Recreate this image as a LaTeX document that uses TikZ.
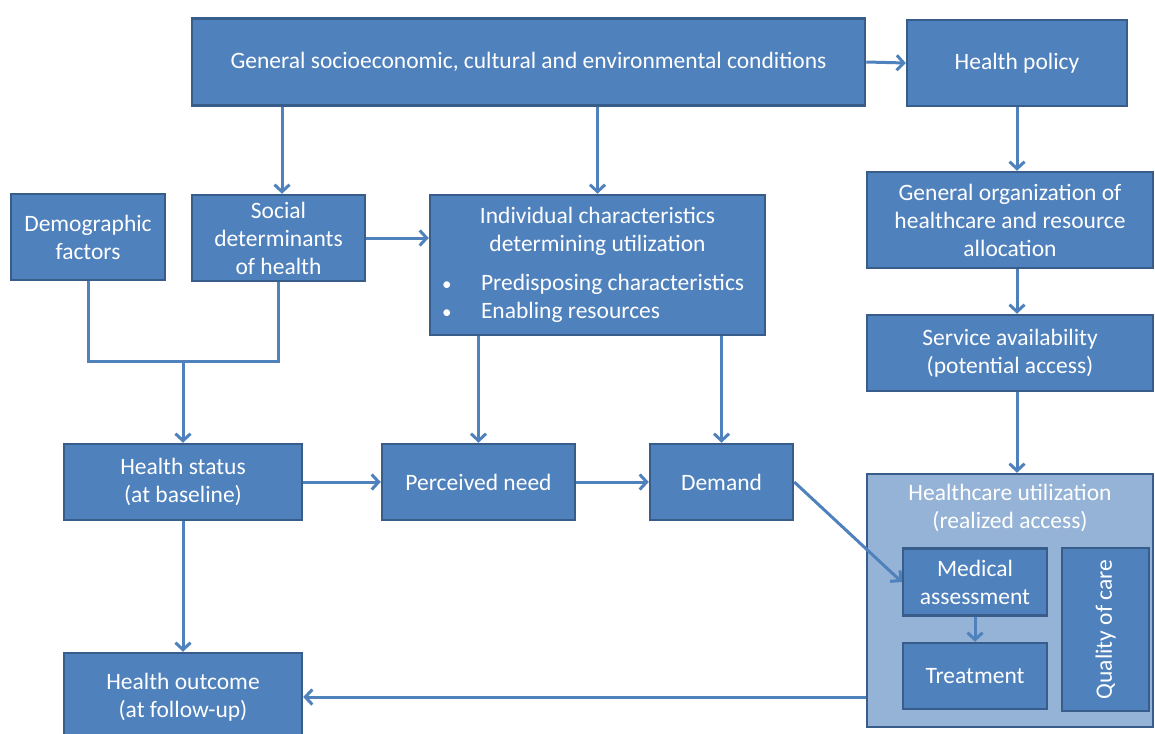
\documentclass[tikz,border=0pt]{standalone}
\usepackage{fontspec}
\setmainfont{Carlito}
\usetikzlibrary{arrows.meta}
\definecolor{boxfill}{HTML}{4F81BD}
\definecolor{boxline}{HTML}{385D8A}
\definecolor{outerfill}{HTML}{95B3D7}
\tikzset{
	box/.style={draw=boxline, fill=boxfill, line width=2.5pt, text=white, align=center, inner sep=0pt, font=\fontsize{23.5}{28}\selectfont},
	outer/.style={box, fill=outerfill},
	link/.style={draw=boxfill, line width=3pt},
	arr/.style={link, -{Straight Barb[length=7pt, width=15pt, line width=3pt]}}
}
\begin{document}
\begin{tikzpicture}[x=1pt, y=-1pt]
	\useasboundingbox (0, 0) rectangle (1155, 733);
	\begin{scope}
	\clip (0, 0) rectangle (1155, 733);
	\node[box, minimum width=673pt, minimum height=87pt] at (528.5, 62) (1) {General socioeconomic, cultural and environmental conditions};
	\node[box, minimum width=220pt, minimum height=86pt] at (1017, 63) (2) {Health policy};
	\node[box, minimum width=154pt, minimum height=86pt] at (88, 237) (3) {Demographic\\factors};
	\node[box, minimum width=173pt, minimum height=86pt] at (278.5, 238) (4) {Social\\determinants\\of health};
	\node[box, minimum width=335pt, minimum height=140pt] at (597.5, 265) (5) {\begin{minipage}{335pt}\centering Individual characteristics\\determining utilization\par\vspace{11pt}\raggedright
		\hspace*{12pt}\makebox[39pt][l]{\fontsize{19}{19}\selectfont\textbullet}Predisposing characteristics\\
		\hspace*{12pt}\makebox[39pt][l]{\fontsize{19}{19}\selectfont\textbullet}Enabling resources\end{minipage}};
	\node[box, minimum width=286pt, minimum height=96pt] at (1010, 220) (6) {General organization of\\healthcare and resource\\allocation};
	\node[box, minimum width=286pt, minimum height=76pt] at (1010, 353) (7) {Service availability\\(potential access)};
	\node[box, minimum width=238pt, minimum height=76pt] at (183, 482) (8) {Health status\\(at baseline)};
	\node[box, minimum width=193pt, minimum height=76pt] at (478.5, 482) (9) {Perceived need};
	\node[box, minimum width=143pt, minimum height=76pt] at (721.5, 482) (10) {Demand};
	\node[outer, minimum width=286pt, minimum height=253pt, label={[font=\fontsize{23.5}{28}\selectfont, text=white, align=center, anchor=north, inner sep=11pt]north:Healthcare utilization\\(realized access)}] at (1010, 600.5) (11) {};
	\node[box, minimum width=144pt, minimum height=67pt] at (975, 582) (12) {Medical\\assessment};
	\node[box, minimum width=144pt, minimum height=66pt] at (975, 676) (13) {Treatment};
	\node[box, rotate=90, minimum width=163pt, minimum height=87pt] at (1105.5, 629.5) (14) {Quality of care};
	\node[box, minimum width=238pt, minimum height=88pt] at (183, 697) (15) {Health outcome\\(at follow-up)};
	\coordinate (j) at (183, 361);
	\draw[arr] (1.east) -- (2.west);
	\draw[arr] ([xshift=3.5pt]1.south -| 4.north) -- ([xshift=3.5pt]4.north);
	\draw[arr] (1.south -| 5.north) -- (5.north);
	\draw[arr] (2.south) -- (2.south |- 6.north);
	\draw[arr] (6.south -| 2.south) -- (7.north -| 2.south);
	\draw[arr] (7.south -| 2.south) -- (11.north -| 2.south);
	\draw[arr] (4.east) -- (4.east -| 5.west);
	\draw[link] (3.south) |- (j) -| (4.south);
	\draw[arr] (j) -- (8.north);
	\draw[arr] (5.south -| 9.north) -- (9.north);
	\draw[arr] (5.south -| 10.north) -- (10.north);
	\draw[arr] (8.east) -- (9.west);
	\draw[arr] (9.east) -- (10.west);
	\draw[arr] (10.east) -- (12.west);
	\draw[arr] (12.south) -- (13.north);
	\draw[arr] (8.south) -- (15.north);
	\draw[arr] (15.east -| 11.west) -- (15.east);
	\end{scope}
\end{tikzpicture}
\end{document}
